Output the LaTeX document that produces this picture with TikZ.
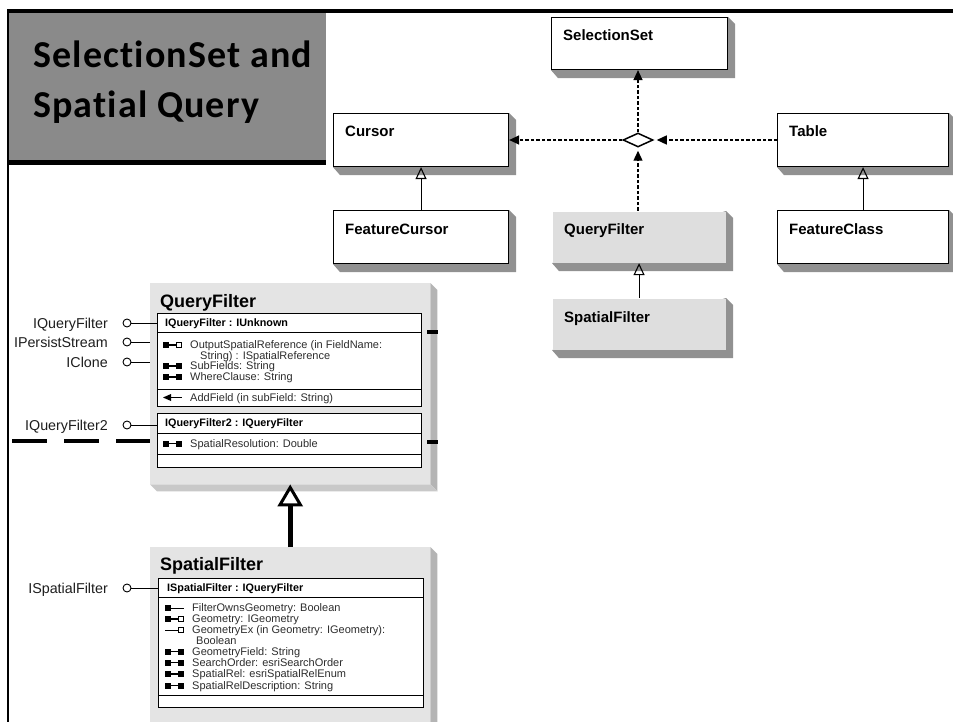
\documentclass[tikz,border=0pt]{standalone}
\usepackage{fontspec}
\setmainfont{Liberation Sans}
\newfontfamily\titlefont{Carlito}[Ligatures=NoCommon, LetterSpace=3]
\usetikzlibrary{arrows.meta,shapes.geometric,backgrounds}

\definecolor{titlegray}{RGB}{138,138,138}
\definecolor{shadowgray}{RGB}{145,145,145}
\definecolor{speckle}{RGB}{222,222,222}
\definecolor{facegray}{RGB}{228,228,228}
\definecolor{sidegray}{RGB}{180,180,180}
\definecolor{basegray}{RGB}{200,200,200}
\definecolor{membercol}{RGB}{45,45,45}
\definecolor{labelcol}{RGB}{30,30,30}

\tikzset{
  titletext/.style={anchor=base west, inner sep=0pt, font=\titlefont\fontsize{38}{44}\selectfont\bfseries},
  classbox/.style={draw, line width=1.1pt, fill=white, minimum width=175pt, minimum height=53pt, inner sep=0pt, anchor=north west},
  abstractbox/.style={classbox, draw=none, fill=speckle},
  classname/.style={anchor=base west, inner sep=0pt, font=\fontsize{15}{18}\selectfont\bfseries},
  dep/.style={line width=1.3pt, dash pattern=on 3.5pt off 2pt, -{Triangle[length=10pt,width=9pt]}},
  inherit/.style={line width=1.1pt, -{Triangle[open,length=12pt,width=11pt,line width=1.1pt]}},
  panelface/.style={fill=facegray, minimum width=280pt, inner sep=0pt, anchor=north west},
  paneltitle/.style={anchor=base west, inner sep=0pt, font=\fontsize{18}{21}\selectfont\bfseries},
  tablerow/.style={draw, line width=0.9pt, fill=white, minimum width=264pt, inner sep=0pt, anchor=north west},
  hdrtext/.style={anchor=base west, inner sep=0pt, font=\fontsize{10.8}{12}\selectfont\bfseries},
  membertext/.style={anchor=base west, inner sep=0pt, text=membercol, font=\fontsize{11}{13}\selectfont},
  iflabel/.style={anchor=base east, inner sep=0pt, text=labelcol, font=\fontsize{14.3}{16}\selectfont},
  lolly/.style={circle, draw, line width=0.9pt, fill=white, minimum size=8pt, inner sep=0pt},
  lollyline/.style={line width=0.9pt},
  busline/.style={line width=4pt},
  % member icons: property get/put, get only, get/put by reference, put only, method
  pics/rw/.style={code={\fill (0,-3) rectangle (6,3); \draw[line width=1.3pt] (6,0) -- (13,0); \fill (13,-3) rectangle (19,3);}},
  pics/ro/.style={code={\fill (0,-3) rectangle (6,3); \draw[line width=1pt] (6,0) -- (19,0);}},
  pics/rwref/.style={code={\fill (0,-3) rectangle (6,3); \draw[line width=1.2pt] (6,0) -- (13.5,0); \draw[line width=0.9pt, fill=white] (13.5,-2.6) rectangle (18.5,2.6);}},
  pics/wo/.style={code={\draw[line width=1pt] (0,0) -- (13.5,0); \draw[line width=0.9pt, fill=white] (13.5,-2.6) rectangle (18.5,2.6);}},
  pics/meth/.style={code={\fill (0,0) -- (8,-3.5) -- (8,3.5) -- cycle; \draw[line width=1.6pt] (7,0) -- (19,0);}},
}

% icon x, centre y, icon, node name, text
\newcommand\memberline[5]{%
  \pic at (#1,#2) {#3};
  \node[membertext] (#4) at ({#1+27},{#2+3.8}) {#5};}

\begin{document}
\begin{tikzpicture}[x=1pt,y=-1pt]
\clip (0,0) rectangle (953,722);

% ---------- title block and frame ----------
\node[fill=titlegray, minimum width=318pt, minimum height=151pt, inner sep=0pt, anchor=north west] (titlebox) at (8,11) {};
\node[titletext] (title1) at (33,68) {SelectionSet and};
\node[titletext] (title2) at (33,118) {Spatial Query};
\draw[line width=3.5pt] (7,11) -- (953,11);
\draw[line width=2.7pt] (8,11) -- (8,722);
\draw[line width=4.5pt] (titlebox.south west) -- (titlebox.south east);

% ---------- object model overview ----------
\node[classbox, minimum width=176pt, minimum height=52pt] (selset) at (551,17) {};
\node[classbox] (cursor) at (333,113) {};
\node[classbox, minimum width=171pt] (table) at (777,113) {};
\node[classbox] (fcursor) at (333,210) {};
\node[classbox, minimum width=171pt] (fclass) at (777,210) {};
\node[abstractbox, minimum width=173pt, minimum height=51pt] (qfilter) at (552,211) {};
\node[abstractbox, minimum width=173pt, minimum height=51pt] (sfilter) at (552,298) {};

\begin{scope}[on background layer]
  \fill[white] (0,0) rectangle (953,722);
  \foreach \b in {selset,cursor,table,fcursor,fclass,qfilter,sfilter}
    \fill[shadowgray] (\b.south west) -- ++(7,8) -- ([shift={(7,8)}]\b.south east)
      -- ([shift={(7,7)}]\b.north east) -- (\b.north east) -- cycle;
\end{scope}

\foreach \b/\t in {selset/SelectionSet, cursor/Cursor, table/Table, fcursor/FeatureCursor,
                   fclass/FeatureClass, qfilter/QueryFilter, sfilter/SpatialFilter}
  \node[classname] (\b-name) at ([shift={(12,24)}]\b.north west) {\t};

\node[diamond, draw, line width=1.5pt, fill=white, minimum width=30pt, minimum height=14pt, inner sep=0pt] (join) at (638,140) {};

\draw[dep] (join.north) -- (join.north |- selset.south);
\draw[dep] (join.west) -- (join.west -| cursor.east);
\draw[dep] (table.west |- join) -- ([xshift=3pt]join.east);
\draw[dep] (join.south |- qfilter.north) -- ([yshift=-3pt]join.south);

\draw[inherit] (fcursor.north) -- (cursor.south);
\draw[inherit] (fclass.north) -- (fclass.north |- table.south);
\draw[inherit] (sfilter.north) -- (qfilter.south);

% ---------- QueryFilter class ----------
\node[panelface, minimum height=201pt] (qfpanel) at (150,283) {};
\fill[sidegray] (qfpanel.north east) -- ++(7,7) -- ([shift={(7,7)}]qfpanel.south east) -- (qfpanel.south east) -- cycle;
\fill[basegray] (qfpanel.south west) -- ++(7,7) -- ([shift={(7,7)}]qfpanel.south east) -- (qfpanel.south east) -- cycle;
\node[paneltitle] (qftitle) at (160,307) {QueryFilter};

\node[tablerow, minimum height=19pt] (qfhdr) at (157,313) {};
\node[tablerow, minimum height=57pt] (qfprops) at (157,332) {};
\node[tablerow, minimum height=17pt] (qfmeth) at (157,389) {};
\node[hdrtext] (qfhdr-t) at (165,326.3) {IQueryFilter : IUnknown};
\memberline{163}{345}{rwref}{qfm1}{OutputSpatialReference (in FieldName:}
\node[membertext] (qfm1b) at (200,359.8) {String) : ISpatialReference};
\memberline{163}{366}{rw}{qfm2}{SubFields: String}
\memberline{163}{377}{rw}{qfm3}{WhereClause: String}
\memberline{163}{397.5}{meth}{qfm4}{AddField (in subField: String)}

\node[tablerow, minimum height=20pt] (qf2hdr) at (157,413) {};
\node[tablerow, minimum height=21pt] (qf2props) at (157,433) {};
\node[tablerow, minimum height=13pt] (qf2meth) at (157,454) {};
\node[hdrtext] (qf2hdr-t) at (165,426.8) {IQueryFilter2 : IQueryFilter};
\memberline{163}{443.5}{rw}{qf2m1}{SpatialResolution: Double}

% interfaces of QueryFilter
\node[lolly] (lqf) at (127,323) {};
\node[lolly] (lps) at (127,342) {};
\node[lolly] (lcl) at (127,362) {};
\node[lolly] (lqf2) at (127,425) {};
\node[iflabel] (tqf) at (108,328) {IQueryFilter};
\node[iflabel] (tps) at (108,347) {IPersistStream};
\node[iflabel] (tcl) at (108,367) {IClone};
\node[iflabel] (tqf2) at (108,430) {IQueryFilter2};
\draw[lollyline] (lqf) -- (lqf -| qfhdr.west);
\draw[lollyline] (lps) -- (lps -| qfpanel.west);
\draw[lollyline] (lcl) -- (lcl -| qfpanel.west);
\draw[lollyline] (lqf2) -- (lqf2 -| qf2hdr.west);

% connector stubs
\coordinate (busstart) at (12,441);
\draw[busline, dash pattern=on 35pt off 17pt] (busstart) -- (busstart -| qfpanel.west);
\draw[busline] (427,332) -- (438,332);
\draw[busline] (427,442) -- (438,442);

% ---------- SpatialFilter class ----------
\node[panelface, minimum height=190pt] (sfpanel) at (150,547) {};
\fill[sidegray] (sfpanel.north east) -- ++(7,7) -- ([shift={(7,7)}]sfpanel.south east) -- (sfpanel.south east) -- cycle;
\node[paneltitle] (sftitle) at (160,570) {SpatialFilter};

\node[tablerow, minimum width=265pt, minimum height=19pt] (sfhdr) at (158,578) {};
\node[tablerow, minimum width=265pt, minimum height=98pt] (sfprops) at (158,597) {};
\node[tablerow, minimum width=265pt, minimum height=12pt] (sfmeth) at (158,695) {};
\node[hdrtext] (sfhdr-t) at (167,591.8) {ISpatialFilter : IQueryFilter};
\memberline{165}{608}{ro}{sfm1}{FilterOwnsGeometry: Boolean}
\memberline{165}{619}{rwref}{sfm2}{Geometry: IGeometry}
\memberline{165}{630}{wo}{sfm3}{GeometryEx (in Geometry: IGeometry):}
\node[membertext] (sfm3b) at (196,644.8) {Boolean};
\memberline{165}{651.5}{rw}{sfm4}{GeometryField: String}
\memberline{165}{662.5}{rw}{sfm5}{SearchOrder: esriSearchOrder}
\memberline{165}{674}{rw}{sfm6}{SpatialRel: esriSpatialRelEnum}
\memberline{165}{685.5}{rw}{sfm7}{SpatialRelDescription: String}

\node[lolly] (lsf) at (127,588) {};
\node[iflabel] (tsf) at (108,593) {ISpatialFilter};
\draw[lollyline] (lsf) -- (lsf -| sfhdr.west);

% SpatialFilter inherits from QueryFilter
\draw[line width=5pt, -{Triangle[open, length=22pt, width=25pt, line width=3pt]}] (sfpanel.north) -- (qfpanel.south);
\end{tikzpicture}
\end{document}
